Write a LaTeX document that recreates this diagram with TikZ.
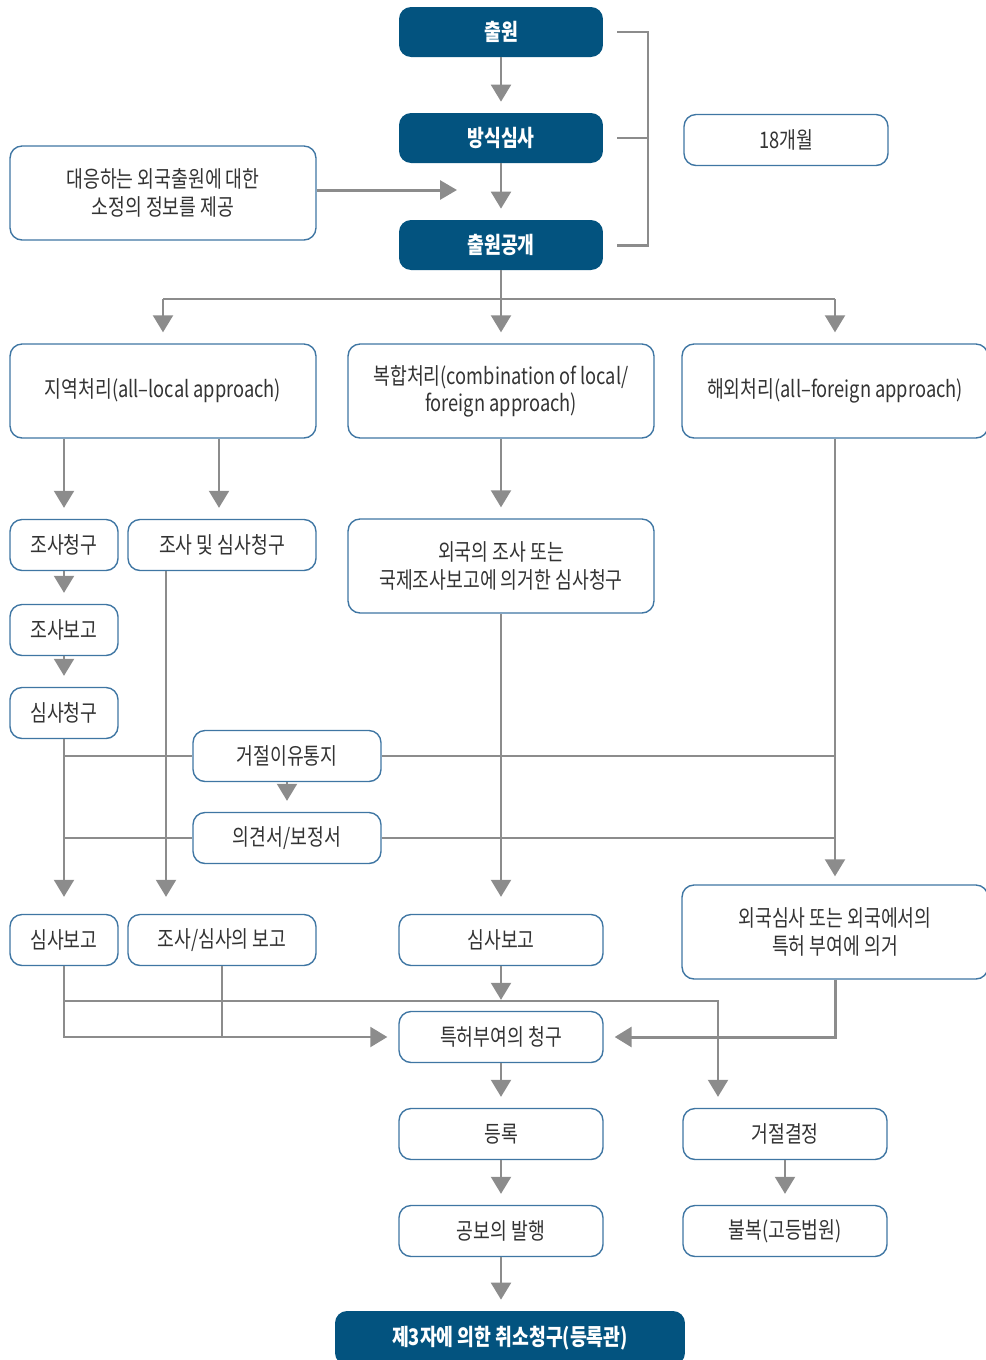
\documentclass[tikz,border=0pt]{standalone}
\usepackage{fontspec}
\setmainfont{Noto Sans CJK KR}[FakeStretch=0.8]
\usetikzlibrary{arrows.meta}

\definecolor{kblue}{HTML}{03537F}
\definecolor{kline}{HTML}{3F76A3}
\definecolor{kgray}{HTML}{8C8C8C}
\definecolor{ktext}{HTML}{333333}

\tikzset{
  dark/.style={fill=kblue, text=white, font=\fontsize{13}{15.5}\selectfont\bfseries,
               rounded corners=0.24cm, minimum width=4.08cm, minimum height=1cm, inner sep=2pt},
  box/.style={draw=kline, line width=0.8pt, fill=white, text=ktext, align=center,
              font=\fontsize{13}{15.5}\selectfont, rounded corners=0.24cm, inner sep=2pt},
  wide/.style={minimum width=6.12cm, minimum height=1.88cm},
  mid/.style={minimum width=4.08cm, minimum height=1.02cm},
  half/.style={minimum width=3.76cm, minimum height=1.02cm},
  small/.style={minimum width=2.16cm, minimum height=1.02cm},
  wire/.style={draw=kgray, line width=1.2pt},
  arr/.style={wire, -{Triangle[width=0.4cm,length=0.34cm]}, shorten >=0.22cm}
}

\begin{document}
\begin{tikzpicture}[x=0.02cm, y=-0.02cm]
\useasboundingbox (0,0) rectangle (985,1360);

\begin{scope}[every node/.style={dark}]
    \node (app) at (501,32) {출원};
    \node (form) at (501,138) {방식심사};
    \node (pub) at (501,245) {출원공개};
    \node[minimum width=7cm, minimum height=1.08cm] (cancel) at (510,1338) {제3자에 의한 취소청구(등록관)};
\end{scope}

\begin{scope}[every node/.style={box}]
    \node[mid] (month) at (786,140) {18개월};
    \node[wide] (info) at (163,193) {대응하는 외국출원에 대한\\소정의 정보를 제공};
    % three ways
    \node[wide] (local) at (163,391) {지역처리(all–local approach)};
    \node[wide] (mixed) at (501,391) {복합처리(combination of local/\\foreign approach)};
    \node[wide] (foreign) at (835,391) {해외처리(all–foreign approach)};
    % local
    \node[small] (search) at (64,545) {조사청구};
    \node[half] (both) at (222,545) {조사 및 심사청구};
    \node[small] (report) at (64,630) {조사보고};
    \node[small] (req) at (64,713) {심사청구};
    \node[half] (notice) at (287,756) {거절이유통지};
    \node[half] (reply) at (287,838) {의견서/보정서};
    \node[small] (rep1) at (64,940) {심사보고};
    \node[half] (rep2) at (222,940) {조사/심사의 보고};
    % mixed
    \node[wide] (forexam) at (501,566) {외국의 조사 또는\\국제조사보고에 의거한 심사청구};
    \node[mid] (rep3) at (501,940) {심사보고};
    % foreign
    \node[wide] (fbase) at (835,932) {외국심사 또는 외국에서의\\특허 부여에 의거};
    % end
    \node[mid] (grant) at (501,1037) {특허부여의 청구};
    \node[mid] (register) at (501,1134) {등록};
    \node[mid] (gazette) at (501,1231) {공보의 발행};
    \node[mid] (reject) at (785,1134) {거절결정};
    \node[mid] (appeal) at (785,1231) {불복(고등법원)};
\end{scope}

\coordinate (feed) at (457,190);
\coordinate (brk) at (648,138);
\coordinate (split) at (501,299);
\coordinate (rj) at (718,1001);

\begin{scope}
    \draw[arr] (app) -- (form);
    \draw[arr] (form) -- (pub);
    \draw[wire, line width=1.7pt, -{Triangle[width=0.38cm,length=0.34cm]}] (info.east |- feed) -- (feed);
    \draw[wire, line width=1.7pt] ([xshift=0.28cm]app.east) -| (brk |- pub.east) -- ([xshift=0.28cm]pub.east);
    \draw[wire, line width=1.7pt] ([xshift=0.28cm]form.east) -- (brk);

    \draw[wire] (split -| local) -- (split -| foreign);
    \draw[arr] (pub) -- (mixed);
    \draw[arr] (split -| local) -- (local);
    \draw[arr] (split -| foreign) -- (foreign);

    \draw[arr] (local.south -| search) -- (search);
    \draw[arr] ([xshift=-0.06cm]local.south -| both) -- ([xshift=-0.06cm]both.north);
    \draw[arr] (search) -- (report);
    \draw[arr] (report) -- (req);
    \draw[arr] (notice) -- (reply);
    \draw[wire] (req.south |- notice.west) -- (notice.west);
    \draw[wire] (notice.east) -- (foreign.south |- notice.east);
    \draw[wire] (req.south |- reply.west) -- (reply.west);
    \draw[wire] (reply.east) -- (foreign.south |- reply.east);
    \draw[arr, shorten >=0.34cm] (req) -- (rep1);
    \draw[arr, shorten >=0.34cm] ([xshift=-1.12cm]both.south) -- ([xshift=-1.12cm]rep2.north);

    \draw[arr] (mixed) -- (forexam);
    \draw[arr, shorten >=0.34cm] (forexam) -- (rep3);
    \draw[arr, shorten >=0.16cm] (foreign) -- (fbase);

    \draw[arr] (rep3) -- (grant);
    \draw[arr] (rep1) |- (grant.west);
    \draw[wire] (rep2) -- (rep2 |- grant.west);
    \draw[arr] (rep1.south |- rj) -| (rj |- reject.north);
    \draw[arr, line width=1.7pt] (fbase) |- (grant.east);

    \draw[arr] (grant) -- (register);
    \draw[arr] (register) -- (gazette);
    \draw[arr] (gazette) -- (gazette |- cancel.north);
    \draw[arr] (reject) -- (appeal);
\end{scope}
\end{tikzpicture}
\end{document}
